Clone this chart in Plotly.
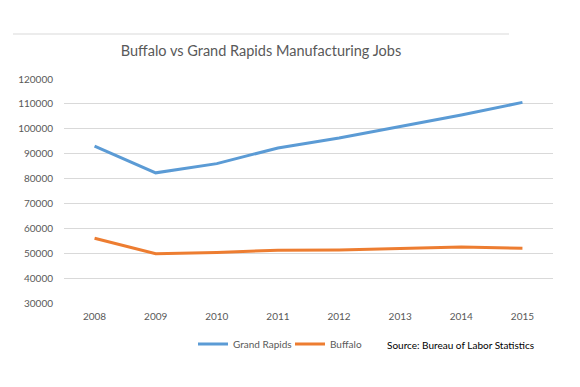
import plotly.graph_objects as go

years = ["2008", "2009", "2010", "2011", "2012", "2013", "2014", "2015"]
grand_rapids = [93000, 82300, 86000, 92300, 96300, 101000, 105500, 110600]
buffalo = [56000, 49800, 50300, 51200, 51300, 52000, 52500, 52000]
y_ticks = [30000, 40000, 50000, 60000, 70000, 80000, 90000, 100000, 110000, 120000]

FONT = "Lato, Open Sans, sans-serif"
GRAY = "#595959"
W, H = 580, 387
OFF = 8  # page body margin

# plot area in page pixels
PL, PR, PT, PB = 64, 553, 79, 303
ml, mr, mt, mb = PL - OFF, W - (PR - OFF), PT - OFF, H - (PB - OFF)
pw, ph = PR - PL, PB - PT


def px(x):
    return (x - PL) / pw


def py(y):
    return (PB - y) / ph


fig = go.Figure()
fig.add_trace(go.Scatter(x=years, y=grand_rapids, name="Grand Rapids", mode="lines",
                         line=dict(color="#5B9BD5", width=3)))
fig.add_trace(go.Scatter(x=years, y=buffalo, name="Buffalo", mode="lines",
                         line=dict(color="#ED7D31", width=3)))

fig.update_layout(
    width=W, height=H,
    margin=dict(l=ml, r=mr, t=mt, b=mb, autoexpand=False),
    paper_bgcolor="white", plot_bgcolor="white",
    title=dict(text="Buffalo vs Grand Rapids Manufacturing Jobs", x=(261 - OFF) / W, xanchor="center",
               xref="container", y=1 - (51 - OFF) / H, yanchor="middle",
               font=dict(family=FONT, size=14.5, color=GRAY)),
    font=dict(family=FONT, size=10, color=GRAY),
    showlegend=True,
    legend=dict(orientation="h", xref="container", yref="container",
                x=(193 - OFF) / W, xanchor="left", y=1 - (344 - OFF) / H, yanchor="middle",
                entrywidth=52, tracegroupgap=0,
                font=dict(family=FONT, size=10, color=GRAY), bgcolor="rgba(0,0,0,0)",
                itemclick=False),
    xaxis=dict(type="category", range=[-0.5, 7.5], showgrid=False, showline=False, ticks="",
               tickfont=dict(size=10, color=GRAY), ticklabelstandoff=6),
    yaxis=dict(range=[30000, 120000], tickvals=y_ticks, tickformat="d", showgrid=True,
               gridcolor="#D9D9D9", gridwidth=1, zeroline=False, showline=False, ticks="",
               tickfont=dict(size=10, color=GRAY), ticklabelstandoff=10),
)

fig.add_shape(type="line", xref="paper", yref="paper",
              x0=px(13), x1=px(509), y0=py(34), y1=py(34),
              line=dict(color="#D9D9D9", width=1))

fig.add_annotation(text="Source: Bureau of Labor Statistics", xref="paper", yref="paper",
                   x=px(536), xanchor="right", y=py(345), yanchor="middle",
                   showarrow=False, font=dict(family=FONT, size=10, color="#000000"))

fig.write_html("out.html")
